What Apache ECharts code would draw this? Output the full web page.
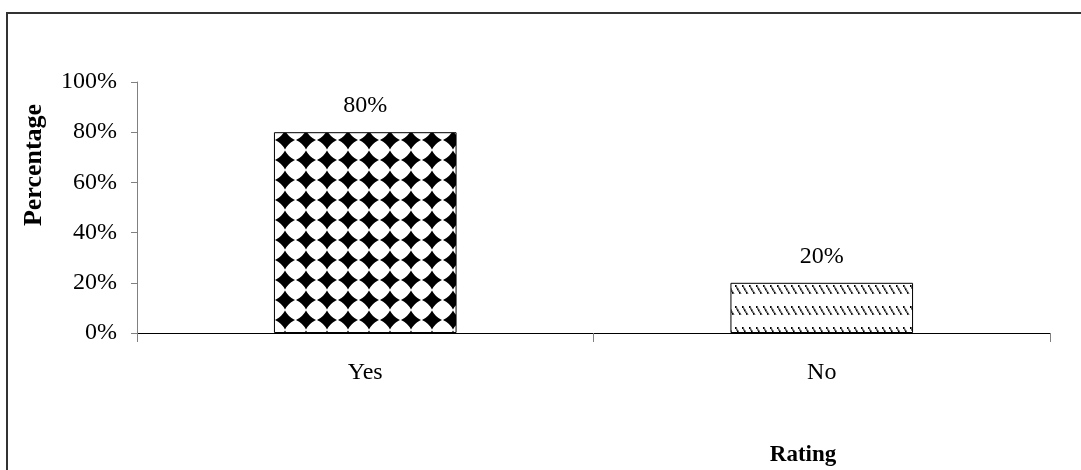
<!DOCTYPE html>
<html><head><meta charset="utf-8">
<script src="https://cdn.jsdelivr.net/npm/echarts@6/dist/echarts.min.js"></script>
<style>html,body{margin:0;padding:0;background:#fff}#c{width:1081px;height:470px}</style>
</head><body><div id="c"></div>
<script>
const categories = ['Yes', 'No'];
const values = [80, 20];
const yTicks = ['0%', '20%', '40%', '60%', '80%', '100%'];
const yTitle = 'Percentage';
const xTitle = 'Rating';

function diamondTile() {
  const w = 21, h = 20;
  const c = document.createElement('canvas'); c.width = w; c.height = h;
  const g = c.getContext('2d');
  g.fillStyle = '#fff'; g.fillRect(0, 0, w, h);
  g.fillStyle = '#000';
  const cx0 = 285 % w, cy0 = 140 % h;
  const rx = 10, ry = 9.5, k = 3.2;
  for (let dx = -w; dx <= w; dx += w) for (let dy = -h; dy <= h; dy += h) {
    const cx = cx0 + dx, cy = cy0 + dy;
    g.beginPath();
    g.moveTo(cx, cy - ry);
    g.quadraticCurveTo(cx + k, cy - k, cx + rx, cy);
    g.quadraticCurveTo(cx + k, cy + k, cx, cy + ry);
    g.quadraticCurveTo(cx - k, cy + k, cx - rx, cy);
    g.quadraticCurveTo(cx - k, cy - k, cx, cy - ry);
    g.closePath(); g.fill();
  }
  return c;
}
function hatchTile() {
  const w = 7, h = 21;
  const c = document.createElement('canvas'); c.width = w; c.height = h;
  const g = c.getContext('2d');
  g.fillStyle = '#fff'; g.fillRect(0, 0, w, h);
  const oy = 285 % h;
  for (let k = 0; k < 6; k++) {
    const x = k, y = oy + k * 1.7;
    g.fillStyle = (k % 2) ? '#555' : '#000';
    g.fillRect(x, y % h, 1.6, 2);
  }
  return c;
}

const chart = echarts.init(document.getElementById('c'), null, {renderer: 'canvas'});
const patterns = [diamondTile(), hatchTile()];
const serif = '"Liberation Serif", "Times New Roman", serif';
chart.setOption({
  animation: false,
  backgroundColor: '#fff',
  textStyle: {fontFamily: serif, color: '#000'},
  grid: {left: 137, right: 31, top: 82, bottom: 137, containLabel: false},
  graphic: [
    {type: 'rect', shape: {x: 7, y: 13, width: 1100, height: 500}, style: {fill: 'none', stroke: '#333', lineWidth: 2}, silent: true},
    {type: 'text', x: 34, y: 165, rotation: Math.PI / 2, style: {text: yTitle, font: 'bold 26px ' + serif, fill: '#000', align: 'center', verticalAlign: 'middle'}, silent: true},
    {type: 'text', x: 803, y: 455, style: {text: xTitle, font: 'bold 23px ' + serif, fill: '#000', align: 'center', verticalAlign: 'middle'}, silent: true}
  ],
  xAxis: {
    type: 'category', data: categories,
    axisLine: {lineStyle: {color: '#000', width: 1}},
    axisTick: {show: true, alignWithLabel: false, length: 9, lineStyle: {color: '#808080'}},
    axisLabel: {fontFamily: serif, fontSize: 24, color: '#000', margin: 28}
  },
  yAxis: {
    type: 'value', min: 0, max: 100, interval: 20,
    axisLine: {show: true, lineStyle: {color: '#808080', width: 1}},
    axisTick: {show: true, length: 6, lineStyle: {color: '#808080'}},
    splitLine: {show: false},
    axisLabel: {fontFamily: serif, fontSize: 24, color: '#000', margin: 20,
      formatter: (v) => yTicks[Math.round(v / 20)]}
  },
  series: [{
    type: 'bar', barWidth: '40%',
    data: values.map((v, i) => ({value: v, itemStyle: {color: {image: patterns[i], repeat: 'repeat'}, borderColor: '#000', borderWidth: 1}})),
    label: {show: true, position: 'top', distance: 14, fontFamily: serif, fontSize: 24, color: '#000', formatter: (p) => p.value + '%'}
  }]
});
</script></body></html>
